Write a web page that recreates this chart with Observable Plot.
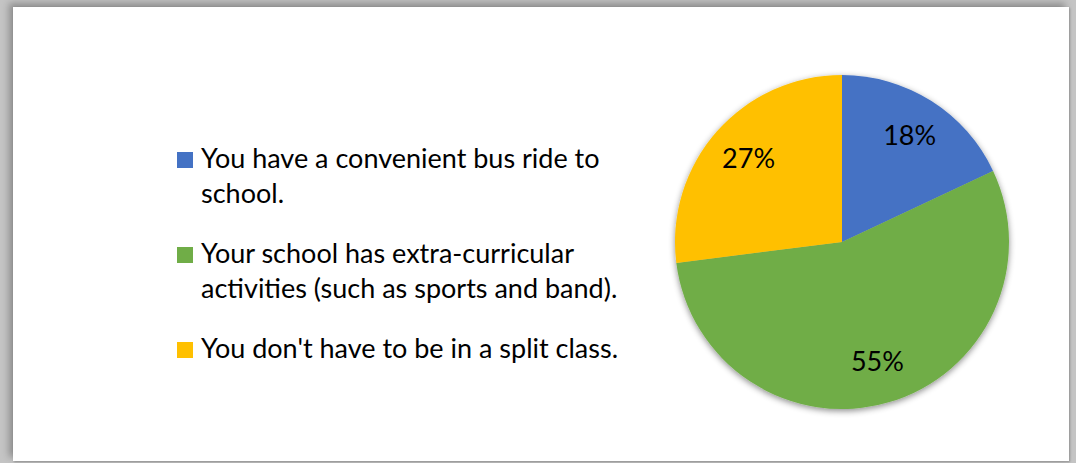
<!DOCTYPE html>
<html><head><meta charset="utf-8">
<script src="https://cdn.jsdelivr.net/npm/d3@7"></script>
<script src="https://cdn.jsdelivr.net/npm/@observablehq/plot@0.6"></script>
<style>
html,body{margin:0;padding:0;background:#fff;}
#frame{position:absolute;left:0;top:0;width:1076px;height:463px;background:#c4c4c4;overflow:hidden;}
#card{position:absolute;left:13px;top:7px;width:1056px;height:454px;background:#fff;
  box-shadow:-4px -4px 7px rgba(0,0,0,0.28), 1px 1px 2px rgba(0,0,0,0.25);}
#legend{position:absolute;left:177px;top:140px;font-family:Lato,"Open Sans",sans-serif;font-size:27px;color:#000;}
.item{display:flex;align-items:flex-start;margin-bottom:25px;}
.sw{width:16px;height:16px;margin-top:12px;margin-right:8px;flex:none;}
.tx{width:450px;line-height:35px;}
#chart{position:absolute;left:672px;top:72px;}
</style>
</head><body>
<div id="frame"><div id="card"></div><div id="legend"></div><div id="chart"></div></div>
<script>
const categories = [
  "You have a convenient bus ride to school.",
  "Your school has extra-curricular activities (such as sports and band).",
  "You don't have to be in a split class."
];
const shares = [18, 55, 27];
const pctLabels = ["18%", "55%", "27%"];
const colors = ["#4472C4", "#70AD47", "#FFC000"];

const data = categories.map((c, i) => ({category: c, value: shares[i], label: pctLabels[i]}));
const arcs = d3.pie().value(d => d.value).sort(null)(data);
const labelPos = arcs.map(a => {
  const m = (a.startAngle + a.endAngle) / 2;
  return {x: 0.75 * Math.sin(m), y: 0.75 * Math.cos(m), label: a.data.label, category: a.data.category};
});

function pieSlices(index, scales, values, dimensions, context) {
  const color = scales.color || d3.scaleOrdinal(categories, colors);
  const cx = scales.x(0), cy = scales.y(0);
  const r = Math.abs(scales.x(1) - scales.x(0));
  const arc = d3.arc().innerRadius(0).outerRadius(r);
  const g = d3.create("svg:g");
  const f = g.append("defs").append("filter").attr("id", "pieShadow")
    .attr("x", "-20%").attr("y", "-20%").attr("width", "140%").attr("height", "140%");
  f.append("feDropShadow").attr("dx", 0).attr("dy", 2).attr("stdDeviation", 3)
    .attr("flood-color", "#000").attr("flood-opacity", 0.45);
  g.append("g").attr("transform", `translate(${cx},${cy})`).attr("filter", "url(#pieShadow)")
    .selectAll("path").data(arcs).join("path")
    .attr("d", arc).attr("fill", d => color(d.data.category));
  return g.node();
}

const chart = Plot.plot({
  width: 340, height: 340, margin: 3,
  style: {background: "transparent", overflow: "visible"},
  x: {domain: [-1, 1], axis: null},
  y: {domain: [-1, 1], axis: null},
  color: {domain: categories, range: colors},
  marks: [
    Plot.dot(data, {x: 0, y: 0, r: 0, fill: "category"}),
    pieSlices,
    Plot.text(labelPos, {x: "x", y: "y", text: "label", fill: "#000",
      fontSize: 27, fontFamily: "Lato, 'Open Sans', sans-serif"})
  ]
});
document.getElementById("chart").appendChild(chart);

const legend = document.getElementById("legend");
categories.forEach((c, i) => {
  const it = document.createElement("div"); it.className = "item";
  const sw = document.createElement("div"); sw.className = "sw"; sw.style.background = colors[i];
  const tx = document.createElement("div"); tx.className = "tx"; tx.textContent = c;
  it.appendChild(sw); it.appendChild(tx); legend.appendChild(it);
});
</script>
</body></html>
